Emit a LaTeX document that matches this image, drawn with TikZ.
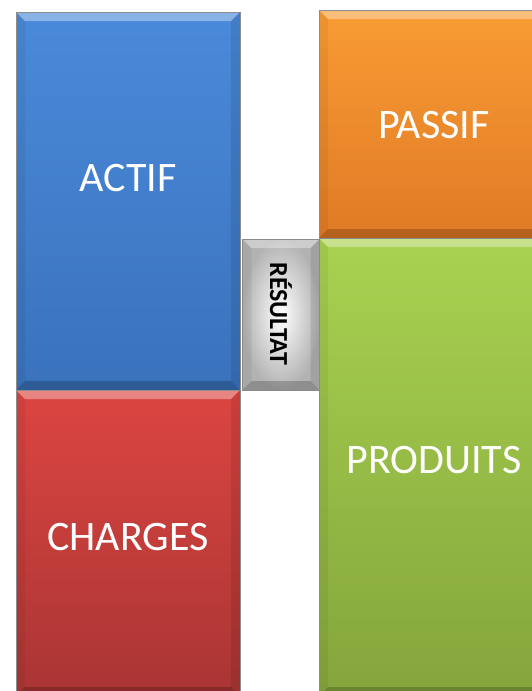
\documentclass[tikz,border=0pt]{standalone}
\usepackage{fontspec}
\setmainfont{Carlito}
\usetikzlibrary{calc}
\definecolor{blueT}{HTML}{4A8ADA}
\definecolor{blueB}{HTML}{3A72BC}
\definecolor{redT}{HTML}{DC4541}
\definecolor{redB}{HTML}{A93534}
\definecolor{orT}{HTML}{F99C34}
\definecolor{orB}{HTML}{E07A25}
\definecolor{grT}{HTML}{A9D250}
\definecolor{grB}{HTML}{84A53C}
\tikzset{
  bevel/.style={path picture={
    \def\bv{9pt}
    \coordinate (nw) at (path picture bounding box.north west);
    \coordinate (ne) at (path picture bounding box.north east);
    \coordinate (sw) at (path picture bounding box.south west);
    \coordinate (se) at (path picture bounding box.south east);
    \fill[white,opacity=0.35] (nw) -- (ne) -- ($(ne)+(-\bv,-\bv)$) -- ($(nw)+(\bv,-\bv)$) -- cycle;
    \fill[black,opacity=0.2] (sw) -- (se) -- ($(se)+(-\bv,\bv)$) -- ($(sw)+(\bv,\bv)$) -- cycle;
    \fill[black,opacity=0.05] (nw) -- (sw) -- ($(sw)+(\bv,\bv)$) -- ($(nw)+(\bv,-\bv)$) -- cycle;
    \fill[black,opacity=0.09] (ne) -- (se) -- ($(se)+(-\bv,\bv)$) -- ($(ne)+(-\bv,-\bv)$) -- cycle;
  }},
  box/.style={rectangle, draw=black!45, line width=0.6pt, inner sep=0pt, bevel},
  lbl/.style={text=white, font=\fontsize{42}{46}\selectfont, inner sep=0pt},
}
\begin{document}
\begin{tikzpicture}[x=1pt,y=-1pt]
\useasboundingbox (0,0) rectangle (532,691);
\fill[white] (0,0) rectangle (532,691);
% boxes
\node[box, top color=blueT, bottom color=blueB, minimum width=224pt, minimum height=378pt] (actif) at (128,201) {};
\node[box, top color=redT, bottom color=redB, minimum width=224pt, minimum height=306pt] (charges) at (128,543) {};
\node[box, top color=orT, bottom color=orB, minimum width=238pt, minimum height=228pt] (passif) at (438,124) {};
\node[box, top color=grT, bottom color=grB, minimum width=238pt, minimum height=458pt] (produits) at (438,467) {};
\node[box, inner color=white, outer color=black!30, minimum width=77pt, minimum height=151pt] (resultat) at (281,314.5) {};
% labels
\node[lbl] (tactif) at (128,178) {ACTIF};
\node[lbl] (tcharges) at (128,537) {CHARGES};
\node[lbl] (tpassif) at (434,125) {PASSIF};
\node[lbl] (tproduits) at (434,460) {PRODUITS};
\node[rotate=-90, font=\fontsize{26}{30}\selectfont\bfseries, inner sep=0pt] (tresultat) at (281,314) {RÉSULTAT};
\end{tikzpicture}
\end{document}
